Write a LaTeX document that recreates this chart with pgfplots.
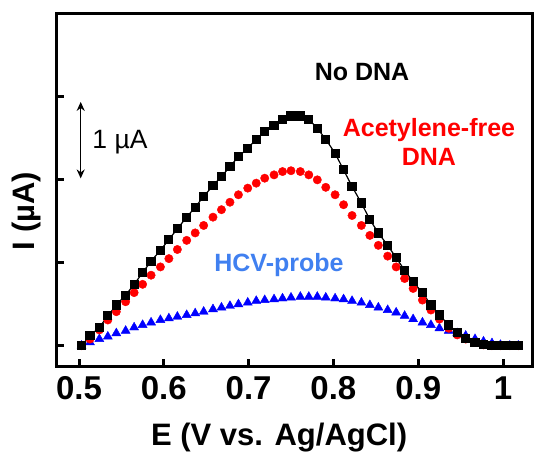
\documentclass[border=0pt]{standalone}
\usepackage{pgfplots}
\pgfplotsset{compat=1.18}
\usepackage{pgfplotstable}
\usepackage{fontspec}
\setmainfont{Liberation Sans}
\usetikzlibrary{arrows.meta}
\definecolor{hcvblue}{RGB}{64,128,240}

% E (V), No DNA, acetylene-free DNA, HCV-probe (I, arbitrary offset, 1 unit = tick spacing)
\pgfplotstableread{
E      nodna  acfree  hcv
0.503  0.00   0.00    0.00
0.513  0.12   0.08    0.04
0.524  0.22   0.19    0.08
0.534  0.36   0.31    0.11
0.544  0.49   0.41    0.15
0.555  0.61   0.53    0.18
0.565  0.74   0.64    0.22
0.575  0.88   0.74    0.25
0.585  1.02   0.85    0.28
0.596  1.15   0.95    0.31
0.606  1.28   1.05    0.33
0.616  1.41   1.16    0.35
0.627  1.55   1.27    0.37
0.637  1.67   1.36    0.39
0.647  1.80   1.45    0.41
0.658  1.93   1.55    0.44
0.668  2.04   1.64    0.46
0.678  2.16   1.73    0.48
0.688  2.28   1.82    0.50
0.699  2.38   1.90    0.52
0.709  2.49   1.96    0.54
0.719  2.58   2.02    0.55
0.730  2.66   2.06    0.56
0.740  2.73   2.10    0.57
0.750  2.77   2.11    0.58
0.761  2.77   2.10    0.59
0.771  2.73   2.06    0.59
0.781  2.62   2.00    0.59
0.791  2.49   1.91    0.58
0.802  2.32   1.82    0.57
0.812  2.12   1.70    0.56
0.822  1.92   1.57    0.54
0.833  1.72   1.45    0.52
0.843  1.52   1.33    0.49
0.853  1.36   1.21    0.46
0.864  1.21   1.08    0.43
0.874  1.06   0.95    0.40
0.884  0.91   0.81    0.36
0.894  0.77   0.69    0.32
0.905  0.64   0.55    0.28
0.915  0.49   0.43    0.25
0.925  0.37   0.32    0.21
0.936  0.25   0.21    0.18
0.946  0.16   0.13    0.15
0.956  0.09   0.08    0.12
0.967  0.04   0.04    0.08
0.977  0.01   0.01    0.05
0.987  0.00   0.00    0.03
0.997  0.00   0.00    0.01
1.008  0.00   0.00    0.00
1.018  0.00   0.00    0.00
}\dpv

\begin{document}
\begin{tikzpicture}
\begin{axis}[
    at={(0,0)}, anchor=south west,
    scale only axis,
    width=475.3pt, height=352pt,
    xmin=0.4737, xmax=1.0342,
    ymin=-0.245, ymax=4.0,
    axis line style={line width=3pt},
    xtick={0.5,0.6,0.7,0.8,0.9,1},
    ytick={0,1,2,3},
    yticklabels={},
    tick align=inside,
    xtick pos=bottom, ytick pos=left,
    major tick length=7pt,
    every tick/.style={black, line width=3pt},
    /pgf/number format/assume math mode=true,
    ticklabel style={font=\fontsize{33}{38}\selectfont\bfseries},
    xticklabel style={yshift=-7pt},
    xlabel={E (V vs. Ag/AgCl)},
    ylabel={I (µA)},
    label style={font=\fontsize{31}{37}\selectfont\bfseries},
    xlabel style={at={(axis description cs:0.468,-0.202)}, anchor=center},
    ylabel style={at={(axis description cs:-0.063,0.44)}, anchor=center},
]
\addplot[only marks, mark=triangle*, mark size=5.2pt, blue] table[x=E, y=hcv] {\dpv};
\addplot[only marks, mark=*, mark size=4.2pt, red] table[x=E, y=acfree] {\dpv};
\addplot[black, line width=1.2pt, mark=square*, mark size=4pt] table[x=E, y=nodna] {\dpv};

\node[font=\fontsize{25}{29}\selectfont\bfseries] at (axis cs:0.8337,3.296) {No DNA};
\node[font=\fontsize{25}{29}\selectfont\bfseries, red, align=center] at (axis cs:0.9127,2.452) {Acetylene-free\\DNA};
\node[font=\fontsize{25}{29}\selectfont\bfseries, hcvblue] at (axis cs:0.7358,0.972) {HCV-probe};
\node[font=\fontsize{26.5}{30}\selectfont] at (axis cs:0.5483,2.454) {1 µA};
\draw[{Stealth[length=9pt,width=8pt]}-{Stealth[length=9pt,width=8pt]}, line width=1.6pt]
    (axis cs:0.502,2.94) -- (axis cs:0.502,2.017);
\end{axis}
\pgfresetboundingbox
\path (-56.7pt,-86pt) rectangle (477.3pt,366pt);
\end{tikzpicture}
\end{document}
